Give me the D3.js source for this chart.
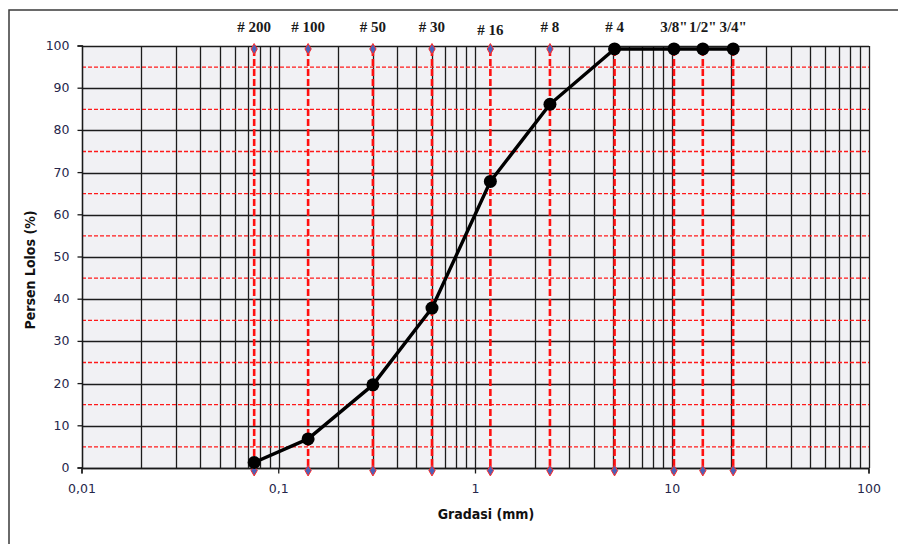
<!DOCTYPE html>
<html>
<head>
<meta charset="utf-8">
<script src="https://cdn.jsdelivr.net/npm/d3@7"></script>
<style>
  html, body { margin: 0; padding: 0; background: #ffffff; }
  svg { display: block; }
</style>
</head>
<body>
<div id="chart"></div>
<script>
// Sieve sizes (mm), their labels and the percentage passing each sieve
const sieveLabels = ["# 200", "# 100", "# 50", "# 30", "# 16", "# 8", "# 4", "3/8\"", "1/2\"", "3/4\""];
const sieveSizes  = [0.075, 0.141, 0.301, 0.601, 1.19, 2.39, 5.09, 10.2, 14.3, 20.4];
const percentPassing = [1.3, 6.9, 19.7, 37.9, 67.9, 86.2, 99.3, 99.3, 99.3, 99.3];

// Ends of the sieve reference lines (percent)
const sieveLineTop = 99.3;
const sieveLineBottom = -0.6;

// Axis ticks
const xTickValues = [0.01, 0.1, 1, 10, 100];
const xTickLabels = ["0,01", "0,1", "1", "10", "100"];
const yTickValues = [0, 10, 20, 30, 40, 50, 60, 70, 80, 90, 100];
const yHalfValues = [5, 15, 25, 35, 45, 55, 65, 75, 85, 95];

const W = 898, H = 544;
const margin = { left: 82, right: 29, top: 46, bottom: 76 };

const svg = d3.select("#chart").append("svg")
  .attr("width", W).attr("height", H);

const x = d3.scaleLog().domain([0.01, 100]).range([margin.left, W - margin.right]);
const y = d3.scaleLinear().domain([0, 100]).range([H - margin.bottom, margin.top]);

// Snap a coordinate to the middle of a pixel so thin rules stay even
const px = v => Math.round(v) + 0.5;

const [x0, x1] = x.range();
const [yb, yt] = y.range();

// Chart area frame
svg.append("rect")
  .attr("x", 9).attr("y", 10).attr("width", W + 20).attr("height", H + 20)
  .attr("fill", "#ffffff").attr("stroke", "#3a3a3a").attr("stroke-width", 1.5);

// Plot area background
svg.append("rect")
  .attr("x", x0).attr("y", yt).attr("width", x1 - x0).attr("height", yb - yt)
  .attr("fill", "#f1f1f4");

// Vertical gridlines: every 1..9 step in each decade
const vGrid = [];
for (let e = -2; e < 2; e++) {
  for (let m = 1; m <= 9; m++) vGrid.push(m * Math.pow(10, e));
}
vGrid.push(100);

svg.append("g").selectAll("line").data(vGrid).join("line")
  .attr("x1", d => px(x(d))).attr("x2", d => px(x(d)))
  .attr("y1", yt).attr("y2", yb)
  .attr("stroke", "#1c1c1c").attr("stroke-width", 1.3);

// Horizontal gridlines at 10 % steps
svg.append("g").selectAll("line").data(yTickValues).join("line")
  .attr("x1", x0).attr("x2", x1)
  .attr("y1", d => px(y(d))).attr("y2", d => px(y(d)))
  .attr("stroke", "#1c1c1c").attr("stroke-width", 1.3);

// Red dashed lines at the 5 % midpoints
svg.append("g").selectAll("line").data(yHalfValues).join("line")
  .attr("x1", x0).attr("x2", x1)
  .attr("y1", d => y(d)).attr("y2", d => y(d))
  .attr("stroke", "#ff1a1a").attr("stroke-width", 1.3)
  .attr("stroke-dasharray", "4,2");

// Axes with outside major ticks
const xAxis = svg.append("g")
  .attr("transform", `translate(0,${px(yb)})`)
  .call(d3.axisBottom(x).tickValues(xTickValues)
    .tickFormat((d, i) => xTickLabels[i]).tickSize(5).tickPadding(8).offset(0));
const yAxis = svg.append("g")
  .attr("transform", `translate(${px(x0)},0)`)
  .call(d3.axisLeft(y).tickValues(yTickValues).tickSize(5).tickPadding(8).offset(0));

[xAxis, yAxis].forEach(g => {
  g.select(".domain").attr("stroke", "#1a1a1a").attr("stroke-width", 1.3);
  g.selectAll(".tick line").attr("stroke", "#1a1a1a").attr("stroke-width", 1.3);
  g.selectAll(".tick text")
    .attr("fill", "#26264a")
    .style("font-family", "'DejaVu Sans', sans-serif")
    .style("font-size", "12.5px");
});
xAxis.selectAll(".tick text").attr("dy", "0.9em");

// Sieve reference lines
const sieves = sieveSizes.map((s, i) => ({ size: s, label: sieveLabels[i], pass: percentPassing[i] }));

svg.append("g").selectAll("line").data(sieves).join("line")
  .attr("x1", d => x(d.size)).attr("x2", d => x(d.size))
  .attr("y1", y(sieveLineTop)).attr("y2", y(sieveLineBottom))
  .attr("stroke", "#ff1010").attr("stroke-width", 2.6)
  .attr("stroke-dasharray", "7,3");

const diamond = d3.symbol().type(d3.symbolDiamond).size(34);
const ends = [];
sieves.forEach(d => { ends.push({ size: d.size, v: sieveLineTop }); ends.push({ size: d.size, v: sieveLineBottom }); });
svg.append("g").selectAll("path").data(ends).join("path")
  .attr("d", diamond)
  .attr("transform", d => `translate(${x(d.size)},${y(d.v)})`)
  .attr("fill", "#4a62b8").attr("stroke", "#ff2a2a").attr("stroke-width", 1);

// Sieve labels above the plot
svg.append("g").selectAll("text").data(sieves).join("text")
  .attr("x", d => x(d.size))
  .attr("y", (d, i) => i === 4 ? 35 : 32)
  .attr("text-anchor", "middle")
  .attr("fill", "#1a1a1a")
  .style("font-family", "'Liberation Serif', 'Times New Roman', serif")
  .style("font-size", "15px")
  .style("font-weight", "600")
  .text(d => d.label);

// Grading curve
const line = d3.line().x(d => x(d.size)).y(d => y(d.pass));
svg.append("path").datum(sieves)
  .attr("d", line)
  .attr("fill", "none").attr("stroke", "#000000").attr("stroke-width", 3.4)
  .attr("stroke-linejoin", "round");

svg.append("g").selectAll("circle").data(sieves).join("circle")
  .attr("cx", d => x(d.size)).attr("cy", d => y(d.pass)).attr("r", 6.5)
  .attr("fill", "#000000");

// Axis titles
svg.append("text")
  .attr("x", 486).attr("y", 519)
  .attr("text-anchor", "middle")
  .attr("fill", "#111111")
  .style("font-family", "'DejaVu Sans Condensed', 'DejaVu Sans', sans-serif")
  .style("font-size", "14px").style("font-weight", "bold")
  .text("Gradasi (mm)");

svg.append("text")
  .attr("transform", "translate(35,270) rotate(-90)")
  .attr("text-anchor", "middle")
  .attr("fill", "#111111")
  .style("font-family", "'DejaVu Sans Condensed', 'DejaVu Sans', sans-serif")
  .style("font-size", "14px").style("font-weight", "bold")
  .text("Persen Lolos (%)");
</script>
</body>
</html>
